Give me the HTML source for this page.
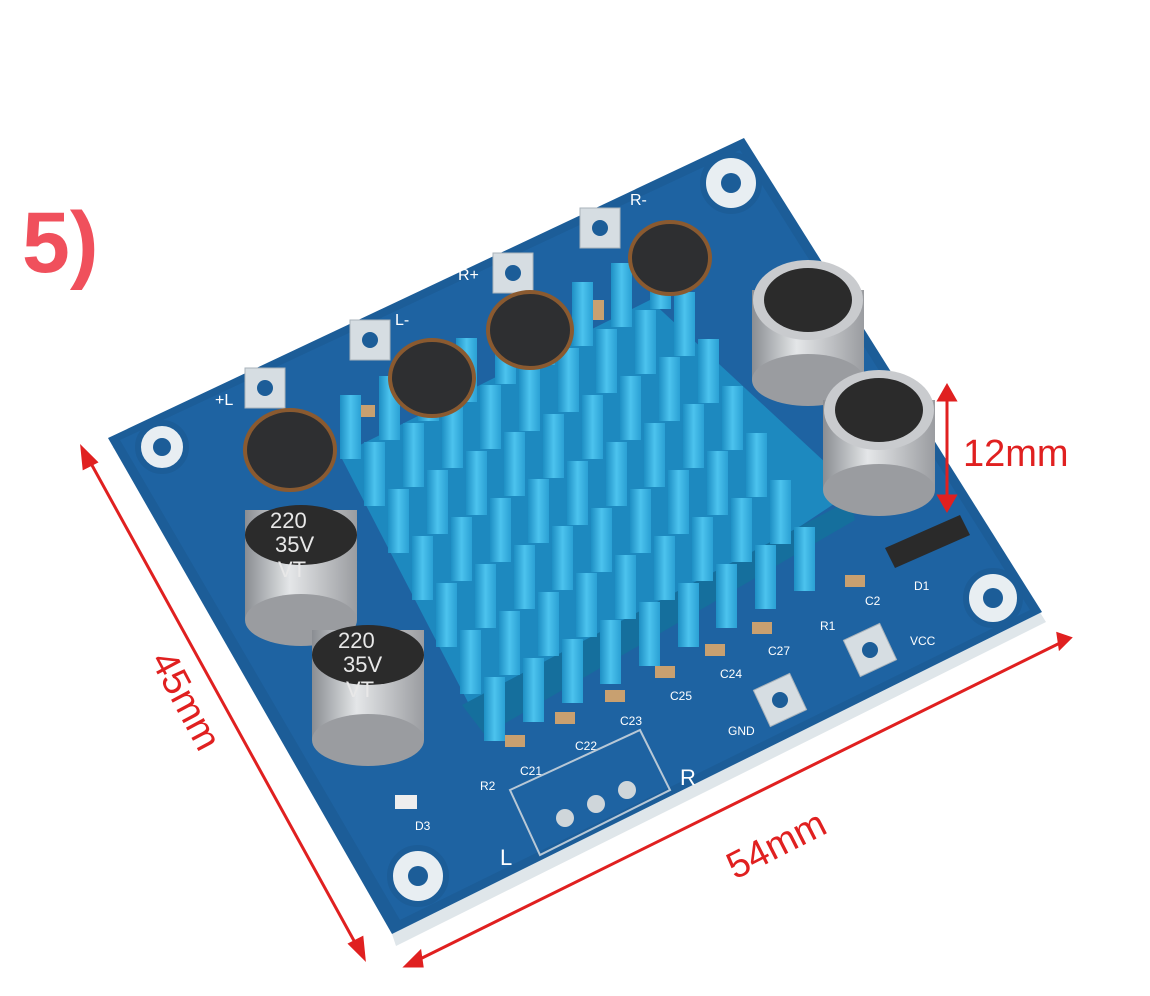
<!DOCTYPE html>
<html><head><meta charset="utf-8"><style>
html,body{margin:0;padding:0;background:#fff;}
svg{display:block;}
</style></head><body>
<svg width="1150" height="996" viewBox="0 0 1150 996" xmlns="http://www.w3.org/2000/svg" font-family="Liberation Sans, sans-serif">
<defs>
<linearGradient id="cap" x1="0" x2="1" y1="0" y2="0">
<stop offset="0" stop-color="#8a8d92"/><stop offset="0.4" stop-color="#e4e6e8"/><stop offset="1" stop-color="#9a9ca0"/></linearGradient>
<linearGradient id="fin" x1="0" x2="1"><stop offset="0" stop-color="#1e8fc4"/><stop offset="0.5" stop-color="#4cc3ee"/><stop offset="1" stop-color="#2aa0d4"/></linearGradient>
</defs>
<rect width="1150" height="996" fill="#fff"/>
<text x="22" y="272" font-size="86" font-weight="bold" fill="#f0505c">5)</text>
<polygon points="112,448 746,142 1046,622 396,946 392,934 1040,612" fill="#dfe6ea"/>
<polygon points="108,438 744,138 1042,612 392,934" fill="#1c5d98"/>
<polygon points="120,440 740,150 1030,610 400,920" fill="#1f67a8" opacity="0.6"/>
<g fill="#e8eef2" stroke="#1c5d98" stroke-width="6">
<circle cx="162" cy="447" r="24"/><circle cx="731" cy="183" r="28"/><circle cx="993" cy="598" r="27"/><circle cx="418" cy="876" r="28"/></g>
<g fill="#1c5d98"><circle cx="162" cy="447" r="9"/><circle cx="731" cy="183" r="10"/><circle cx="993" cy="598" r="10"/><circle cx="418" cy="876" r="10"/></g>
<g fill="#d6dde2" stroke="#a9b3bb"><rect x="245" y="368" width="40" height="40"/><rect x="350" y="320" width="40" height="40"/><rect x="493" y="253" width="40" height="40"/><rect x="580" y="208" width="40" height="40"/>
<rect x="760" y="680" width="40" height="40" transform="rotate(-25 780 700)"/><rect x="850" y="630" width="40" height="40" transform="rotate(-25 870 650)"/></g>
<g fill="#1c5d98"><circle cx="265" cy="388" r="8"/><circle cx="370" cy="340" r="8"/><circle cx="513" cy="273" r="8"/><circle cx="600" cy="228" r="8"/><circle cx="780" cy="700" r="8"/><circle cx="870" cy="650" r="8"/></g>
<g fill="#fff" font-size="16"><text x="215" y="405">+L</text><text x="395" y="325">L-</text><text x="458" y="280">R+</text><text x="630" y="205">R-</text><text x="728" y="735" font-size="12">GND</text><text x="910" y="645" font-size="12">VCC</text><text x="680" y="785" font-size="22">R</text><text x="500" y="865" font-size="22">L</text>
<text x="415" y="830" font-size="12">D3</text><text x="914" y="590" font-size="12">D1</text><text x="480" y="790" font-size="12">R2</text><text x="520" y="775" font-size="12">C21</text><text x="575" y="750" font-size="12">C22</text><text x="620" y="725" font-size="12">C23</text><text x="670" y="700" font-size="12">C25</text><text x="720" y="678" font-size="12">C24</text><text x="768" y="655" font-size="12">C27</text><text x="820" y="630" font-size="12">R1</text><text x="865" y="605" font-size="12">C2</text></g>
<polygon points="510,790 640,730 670,790 540,855" fill="none" stroke="#b8c8d6" stroke-width="2"/>
<g fill="#cfd6da"><circle cx="565" cy="818" r="9"/><circle cx="596" cy="804" r="9"/><circle cx="627" cy="790" r="9"/></g>
<polygon points="885,548 960,515 970,535 895,568" fill="#2a2a2a"/>
<g fill="#c8a070"><rect x="505" y="735" width="20" height="12"/><rect x="555" y="712" width="20" height="12"/><rect x="605" y="690" width="20" height="12"/><rect x="655" y="666" width="20" height="12"/><rect x="705" y="644" width="20" height="12"/><rect x="752" y="622" width="20" height="12"/><rect x="845" y="575" width="20" height="12"/><rect x="355" y="405" width="20" height="12"/><rect x="588" y="300" width="16" height="20"/></g>
<rect x="395" y="795" width="22" height="14" fill="#eee"/>
<polygon points="340,455 650,300 855,490 485,735" fill="#1d89bf"/>
<polygon points="462,705 850,500 855,520 485,735" fill="#156f9d"/>
<g fill="url(#fin)">
<g id="row">
<rect x="340" y="395" width="21" height="64"/><rect x="379" y="376" width="21" height="64"/><rect x="418" y="357" width="21" height="64"/><rect x="456" y="338" width="21" height="64"/><rect x="495" y="320" width="21" height="64"/><rect x="534" y="301" width="21" height="64"/><rect x="572" y="282" width="21" height="64"/><rect x="611" y="263" width="21" height="64"/><rect x="650" y="245" width="21" height="64"/></g>
<use href="#row" x="24" y="47"/><use href="#row" x="48" y="94"/><use href="#row" x="72" y="141"/><use href="#row" x="96" y="188"/><use href="#row" x="120" y="235"/><use href="#row" x="144" y="282"/></g>
<g fill="#2e2f31" stroke="#8a5a30" stroke-width="4">
<ellipse cx="290" cy="450" rx="45" ry="40"/><ellipse cx="432" cy="378" rx="42" ry="38"/><ellipse cx="530" cy="330" rx="42" ry="38"/><ellipse cx="670" cy="258" rx="40" ry="36"/></g>
<g>
<rect x="245" y="510" width="112" height="110" fill="url(#cap)"/><ellipse cx="301" cy="620" rx="56" ry="26" fill="#9a9ca0"/><ellipse cx="301" cy="535" rx="56" ry="30" fill="#2b2b2b"/>
<rect x="312" y="630" width="112" height="110" fill="url(#cap)"/><ellipse cx="368" cy="740" rx="56" ry="26" fill="#9a9ca0"/><ellipse cx="368" cy="655" rx="56" ry="30" fill="#2b2b2b"/>
<rect x="752" y="290" width="112" height="90" fill="url(#cap)"/><ellipse cx="808" cy="380" rx="56" ry="26" fill="#9a9ca0"/><ellipse cx="808" cy="300" rx="55" ry="40" fill="#c9cbce"/><ellipse cx="808" cy="300" rx="44" ry="32" fill="#2b2b2b"/>
<rect x="823" y="400" width="112" height="90" fill="url(#cap)"/><ellipse cx="879" cy="490" rx="56" ry="26" fill="#9a9ca0"/><ellipse cx="879" cy="410" rx="55" ry="40" fill="#c9cbce"/><ellipse cx="879" cy="410" rx="44" ry="32" fill="#2b2b2b"/>
</g>
<g fill="#e8e8e8" font-size="22"><text x="270" y="528">220</text><text x="275" y="552">35V</text><text x="278" y="577">VT</text><text x="338" y="648">220</text><text x="343" y="672">35V</text><text x="346" y="697">VT</text></g>
<g stroke="#e02020" stroke-width="3" fill="#e02020">
<line x1="88" y1="458" x2="358" y2="948"/><polygon points="82,448 96,462 84,468"/><polygon points="364,958 350,944 362,938"/>
<line x1="414" y1="962" x2="1062" y2="642"/><polygon points="406,966 420,952 422,966"/><polygon points="1070,638 1058,634 1060,648"/>
<line x1="947" y1="395" x2="947" y2="502"/><polygon points="947,386 939,400 955,400"/><polygon points="947,510 939,496 955,496"/>
</g>
<g fill="#e02020" font-size="38">
<text x="963" y="466">12mm</text>
<text transform="translate(150,660) rotate(62)">45mm</text>
<text transform="translate(735,880) rotate(-27)">54mm</text>
</g>
</svg>
</body></html>
